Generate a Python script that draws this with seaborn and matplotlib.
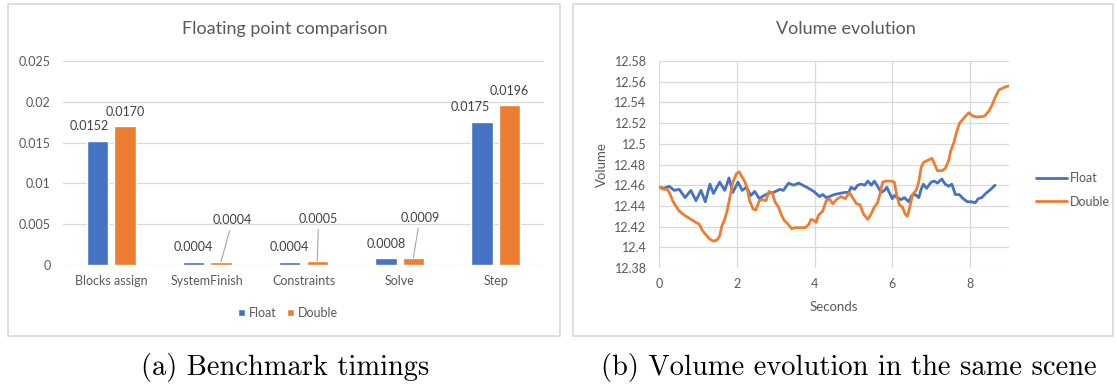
import numpy as np
import pandas as pd
import matplotlib
matplotlib.use('Agg')
import matplotlib.pyplot as plt
import seaborn as sns
from matplotlib.patches import Rectangle
from matplotlib.ticker import FuncFormatter

# ---- data: benchmark timings (seconds) ----
tasks = ['Blocks assign', 'SystemFinish', 'Constraints', 'Solve', 'Step']
float_times = [0.0152, 0.0004, 0.0004, 0.0008, 0.0175]
double_times = [0.0170, 0.0004, 0.0005, 0.0009, 0.0196]

# ---- data: volume evolution ----
float_t = [0.00, 0.13, 0.26, 0.39, 0.52, 0.67, 0.82, 0.95, 1.08, 1.19, 1.31, 1.40,
           1.56, 1.69, 1.80, 1.90, 2.03, 2.14, 2.25, 2.36, 2.46, 2.58, 2.70, 2.81,
           2.94, 3.11, 3.20, 3.33, 3.46, 3.59, 3.80, 3.98, 4.13, 4.21, 4.30, 4.38,
           4.51, 4.64, 4.77, 4.88, 4.94, 5.03, 5.11, 5.20, 5.29, 5.37, 5.46, 5.54,
           5.62, 5.71, 5.80, 5.86, 5.92, 6.00, 6.05, 6.14, 6.22, 6.31, 6.42, 6.50,
           6.59, 6.68, 6.74, 6.80, 6.88, 7.00, 7.08, 7.16, 7.27, 7.36, 7.45, 7.53,
           7.62, 7.72, 7.82, 7.93, 8.04, 8.13, 8.21, 8.30, 8.40, 8.50, 8.64]
float_v = [12.458, 12.457, 12.459, 12.455, 12.456, 12.448, 12.455, 12.445, 12.455, 12.444,
           12.461, 12.452, 12.463, 12.455, 12.467, 12.453, 12.463, 12.455, 12.458, 12.450,
           12.454, 12.447, 12.450, 12.452, 12.453, 12.456, 12.455, 12.462, 12.460, 12.462,
           12.458, 12.454, 12.449, 12.451, 12.448, 12.449, 12.451, 12.452, 12.453, 12.453,
           12.458, 12.456, 12.460, 12.461, 12.460, 12.464, 12.460, 12.464, 12.459, 12.453,
           12.455, 12.458, 12.453, 12.447, 12.450, 12.448, 12.446, 12.448, 12.444, 12.450,
           12.451, 12.448, 12.456, 12.461, 12.457, 12.463, 12.464, 12.462, 12.466, 12.461,
           12.459, 12.461, 12.451, 12.451, 12.447, 12.444, 12.444, 12.443, 12.447, 12.448,
           12.452, 12.455, 12.460]

double_t = [0.00, 0.13, 0.22, 0.30, 0.35, 0.43, 0.52, 0.65, 0.78, 0.91, 1.04, 1.12,
            1.21, 1.30, 1.40, 1.49, 1.56, 1.62, 1.69, 1.75, 1.82, 1.90, 1.99, 2.06,
            2.12, 2.20, 2.26, 2.33, 2.42, 2.49, 2.58, 2.66, 2.75, 2.83, 2.92, 2.98,
            3.07, 3.15, 3.22, 3.33, 3.41, 3.50, 3.63, 3.76, 3.85, 3.91, 3.98, 4.04,
            4.10, 4.21, 4.30, 4.38, 4.47, 4.56, 4.68, 4.79, 4.90, 4.98, 5.08, 5.17,
            5.26, 5.37, 5.45, 5.54, 5.62, 5.68, 5.75, 5.84, 5.97, 6.05, 6.11, 6.18,
            6.26, 6.33, 6.39, 6.45, 6.52, 6.61, 6.68, 6.74, 6.80, 6.91, 7.02, 7.08,
            7.16, 7.27, 7.36, 7.45, 7.50, 7.59, 7.65, 7.73, 7.82, 7.89, 7.97, 8.06,
            8.16, 8.27, 8.38, 8.49, 8.57, 8.66, 8.74, 8.85, 8.91, 9.00]
double_v = [12.458, 12.456, 12.456, 12.450, 12.445, 12.440, 12.435, 12.431, 12.428, 12.425,
            12.422, 12.416, 12.412, 12.408, 12.406, 12.407, 12.411, 12.421, 12.427, 12.435,
            12.448, 12.463, 12.471, 12.473, 12.469, 12.464, 12.458, 12.445, 12.437, 12.436,
            12.445, 12.446, 12.445, 12.454, 12.452, 12.444, 12.439, 12.431, 12.426, 12.422,
            12.418, 12.419, 12.419, 12.419, 12.422, 12.427, 12.426, 12.424, 12.431, 12.435,
            12.445, 12.447, 12.442, 12.446, 12.449, 12.447, 12.453, 12.448, 12.442, 12.441,
            12.432, 12.427, 12.432, 12.439, 12.443, 12.451, 12.463, 12.464, 12.464, 12.463,
            12.451, 12.441, 12.439, 12.432, 12.430, 12.439, 12.451, 12.455, 12.463, 12.477,
            12.482, 12.484, 12.486, 12.481, 12.474, 12.474, 12.476, 12.484, 12.493, 12.502,
            12.511, 12.520, 12.524, 12.527, 12.530, 12.527, 12.526, 12.526, 12.527, 12.532,
            12.538, 12.546, 12.552, 12.554, 12.555, 12.556]

blue = '#4472C4'
orange = '#ED7D31'
grey_txt = '#595959'
grid_col = '#d9d9d9'

sns.set_style('white')
plt.rcParams['font.family'] = ['Lato', 'DejaVu Sans']

W, H = 1117, 387
fig = plt.figure(figsize=(W / 100, H / 100), dpi=100)

def fx(px):
    return px / W

def fy(py):
    return 1 - py / H

# chart frames
for x0, x1 in [(8, 560), (573, 1113)]:
    fig.add_artist(Rectangle((fx(x0), fy(336)), fx(x1 - x0), (336 - 4) / H,
                             transform=fig.transFigure, fc='white', ec=grid_col, lw=1.2, zorder=0))

# ---------------- (a) bar chart ----------------
ax1 = fig.add_axes([fx(63), fy(265), fx(544 - 63), (265 - 61) / H])
bars = pd.DataFrame({
    'task': tasks * 2,
    'time': float_times + double_times,
    'precision': ['Float'] * len(tasks) + ['Double'] * len(tasks),
})
sns.barplot(data=bars, x='task', y='time', hue='precision', palette=[blue, orange],
            width=0.57, gap=0.22, saturation=1, ax=ax1, zorder=3)
ax1.set_ylim(0, 0.025)
ax1.set_yticks(np.arange(0, 0.0251, 0.005))
ax1.yaxis.set_major_formatter(FuncFormatter(lambda v, p: '{:g}'.format(round(v, 4))))
ax1.grid(axis='y', color=grid_col, lw=0.9)
ax1.set_axisbelow(True)
for s in ax1.spines.values():
    s.set_visible(False)
ax1.set_xlabel('')
ax1.set_ylabel('')
ax1.tick_params(length=0, labelsize=9, colors=grey_txt)
ax1.tick_params(axis='y', pad=9)
ax1.tick_params(axis='x', pad=7)

# label offsets in pixels (dx, dy above bar top), per hue then per task
label_off = [
    [(-8, 15), (0, 14.5), (0, 14.5), (0, 14.5), (-12, 15)],
    [(0, 14.5), (11.5, 41.5), (1.5, 42), (6.5, 40), (0, 14)],
]
for ci, cont in enumerate(ax1.containers):
    for bi, bar in enumerate(cont):
        xc = bar.get_x() + bar.get_width() / 2
        h = bar.get_height()
        dx, dy = label_off[ci][bi]
        arrow = dict(arrowstyle='-', color='#a6a6a6', lw=0.8, shrinkA=1, shrinkB=0) if dy > 30 else None
        ax1.annotate('{:.4f}'.format(h), xy=(xc, h), xytext=(dx * 0.72, dy * 0.72),
                     textcoords='offset points', ha='center', va='center',
                     fontsize=9, color='#404040', arrowprops=arrow)

h1, l1 = ax1.get_legend_handles_labels()
ax1.get_legend().remove()
fig.legend(h1, l1, loc='center', bbox_to_anchor=(fx(288), fy(313)), ncol=2, frameon=False,
           fontsize=9, handlelength=0.55, handleheight=0.55, handletextpad=0.25,
           columnspacing=0.9, labelcolor=grey_txt)
fig.text(fx(285), fy(29), 'Floating point comparison', ha='center', va='center',
         fontsize=13, color=grey_txt)

# ---------------- (b) line chart ----------------
ax2 = fig.add_axes([fx(659), fy(268), fx(1009 - 659), (268 - 61) / H])
vol = pd.DataFrame({
    'Seconds': float_t + double_t,
    'Volume': float_v + double_v,
    'series': ['Float'] * len(float_t) + ['Double'] * len(double_t),
})
sns.lineplot(data=vol, x='Seconds', y='Volume', hue='series',
             palette={'Float': blue, 'Double': orange}, estimator=None, sort=False,
             lw=2, ax=ax2)
ax2.set_xlim(0, 9)
ax2.set_ylim(12.38, 12.58)
ax2.set_xticks(np.arange(0, 9, 2))
ax2.set_yticks(np.arange(12.38, 12.581, 0.02))
ax2.yaxis.set_major_formatter(FuncFormatter(lambda v, p: '{:g}'.format(round(v, 2))))
ax2.grid(True, color=grid_col, lw=0.9)
ax2.set_axisbelow(True)
for s in ax2.spines.values():
    s.set_visible(False)
ax2.tick_params(length=0, labelsize=9, colors=grey_txt)
ax2.tick_params(axis='y', pad=9)
ax2.tick_params(axis='x', pad=7.5)
ax2.set_xlabel('Seconds', fontsize=9.5, color=grey_txt)
ax2.set_ylabel('Volume', fontsize=9.5, color=grey_txt)
ax2.xaxis.set_label_coords(0.5, (268 - 307) / 207)
ax2.xaxis.label.set_va('center')
ax2.yaxis.set_label_coords((602 - 659) / 350, 0.5)
ax2.yaxis.label.set_va('center')

h2, l2 = ax2.get_legend_handles_labels()
ax2.get_legend().remove()
fig.legend(h2, l2, loc='center left', bbox_to_anchor=(fx(1036), fy(190)), frameon=False,
           fontsize=9, borderpad=0, borderaxespad=0, handlelength=2.5, handletextpad=0.2,
           labelspacing=0.9, labelcolor=grey_txt)
fig.text(fx(846), fy(29), 'Volume evolution', ha='center', va='center',
         fontsize=13, color=grey_txt)

# captions
fig.text(fx(285), fy(367), '(a) Benchmark timings', ha='center', va='center',
         fontsize=20.5, family='cmr10', color='black')
fig.text(fx(849), fy(367), '(b) Volume evolution in the same scene', ha='center', va='center',
         fontsize=20.5, family='cmr10', color='black')

fig.savefig('out.png', dpi=100)
